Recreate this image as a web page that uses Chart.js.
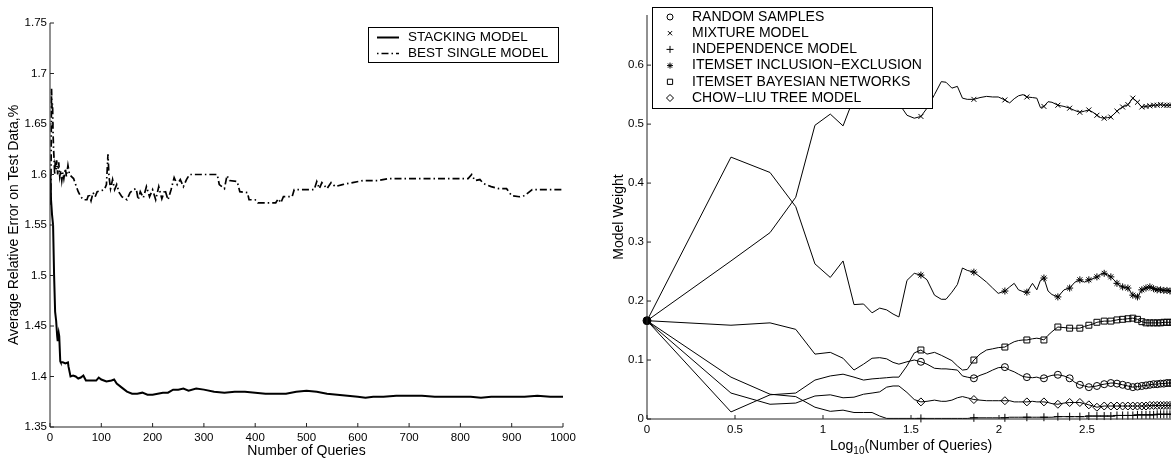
<!DOCTYPE html>
<html>
<head>
<meta charset="utf-8">
<script src="https://cdn.jsdelivr.net/npm/chart.js@4.4.0/dist/chart.umd.min.js"></script>
<style>
  html, body { margin: 0; padding: 0; background: #fff; overflow: hidden; width: 1171px; height: 458px; }
  canvas { position: absolute; top: 0; }
  #left { left: 0; }
  #right { left: 590px; }
</style>
</head>
<body>
<canvas id="left" width="585" height="458"></canvas>
<canvas id="right" width="600" height="458"></canvas>
<script>
/*************************************************
 * DADOS - GRÁFICO ESQUERDO (erro x consultas)
 *************************************************/
const stackQueries = [1, 2, 4, 6, 8, 10, 12, 14, 15, 17, 18, 20, 21, 25, 30, 35, 36, 40, 45, 50, 55, 60, 65, 70, 80, 90, 95, 100,
  110, 120, 125, 130, 140, 150, 160, 170, 180, 190, 200, 210, 220, 230, 240, 250, 260, 270, 285, 300, 320, 340, 360, 380,
  400, 420, 440, 460, 480, 500, 520, 540, 560, 580, 600, 615, 630, 650, 675, 700, 725, 750, 775, 800, 820, 840, 860, 880,
  900, 925, 950, 975, 1000];
const stackError = [1.600, 1.575, 1.560, 1.550, 1.500, 1.464, 1.455, 1.440, 1.435, 1.443, 1.440, 1.415, 1.414, 1.414, 1.413,
  1.414, 1.410, 1.400, 1.401, 1.400, 1.398, 1.399, 1.401, 1.396, 1.396, 1.396, 1.399, 1.397,
  1.395, 1.396, 1.397, 1.393, 1.389, 1.385, 1.383, 1.383, 1.384, 1.382, 1.382, 1.383, 1.384, 1.384, 1.387, 1.387, 1.388,
  1.386, 1.388, 1.387, 1.385, 1.384, 1.385, 1.385,
  1.384, 1.383, 1.383, 1.383, 1.385, 1.386, 1.385, 1.383, 1.382, 1.381, 1.380, 1.379, 1.380, 1.380, 1.381, 1.381, 1.381,
  1.380, 1.380, 1.380, 1.380, 1.379, 1.380, 1.380,
  1.380, 1.380, 1.381, 1.380, 1.380];

const singleQueries = [1, 2, 3, 4, 5, 6, 7, 8, 9, 10, 12, 13, 15, 17, 19, 21, 23, 25, 27, 30, 32, 35, 38, 42, 46, 50, 55, 60,
  65, 72, 76, 80, 84, 88, 92, 100, 106, 110, 113, 115, 118, 122, 126, 130, 135, 140, 150, 156, 162, 168, 172, 176, 182,
  188, 194, 200, 206, 212, 218, 224, 230, 236, 242, 248, 254, 260, 266, 272, 290, 310, 326, 330, 340, 345, 350, 365,
  370, 385, 388, 400, 405, 440, 445, 450, 455, 472, 476, 500, 515, 520, 525, 530, 540, 548, 556, 570, 590, 610, 640,
  660, 700, 760, 815, 822, 828, 838, 845, 860, 875, 890, 900, 915, 925, 940, 960, 980, 1000];
const singleError = [1.570, 1.600, 1.685, 1.665, 1.670, 1.640, 1.625, 1.615, 1.600, 1.610, 1.605, 1.614, 1.600, 1.612, 1.598,
  1.604, 1.594, 1.602, 1.596, 1.606, 1.598, 1.609, 1.600, 1.598, 1.596, 1.590, 1.583, 1.578,
  1.575, 1.575, 1.581, 1.574, 1.582, 1.578, 1.583, 1.584, 1.585, 1.590, 1.620, 1.598, 1.586, 1.595, 1.585, 1.590, 1.582,
  1.578, 1.575, 1.582, 1.585, 1.586, 1.575, 1.583, 1.577,
  1.588, 1.578, 1.585, 1.575, 1.588, 1.576, 1.585, 1.575, 1.585, 1.597, 1.590, 1.595, 1.588, 1.595, 1.600, 1.600, 1.600,
  1.600, 1.590, 1.586, 1.599, 1.594, 1.593,
  1.583, 1.582, 1.575, 1.575, 1.572, 1.572, 1.576, 1.572, 1.578, 1.578, 1.585, 1.585, 1.585, 1.593, 1.586, 1.592, 1.586,
  1.592, 1.588, 1.590, 1.592, 1.594, 1.594,
  1.596, 1.596, 1.596, 1.596, 1.600, 1.594, 1.595, 1.591, 1.588, 1.586, 1.586, 1.579, 1.578, 1.579, 1.585, 1.585, 1.585,
  1.585];

const leftXTicks = [0, 100, 200, 300, 400, 500, 600, 700, 800, 900, 1000];
const leftYTicks = [1.35, 1.4, 1.45, 1.5, 1.55, 1.6, 1.65, 1.7, 1.75];

/*************************************************
 * DADOS - GRÁFICO DIREITO (pesos x log10 consultas)
 *************************************************/
const weightQueries = [1, 3, 5, 7, 9, 11, 13, 15, 17, 19, 21, 23, 25, 27, 30, 33, 36, 39, 43, 47, 50, 54, 58, 62, 66, 72, 78,
  85, 92, 99, 108, 115, 122, 129, 137, 144, 155, 164, 172, 180, 190, 200, 216, 234, 252, 270, 288, 306, 324, 342, 360,
  378, 396, 414, 432, 450, 468, 486, 504, 540, 576, 612, 648, 684, 720, 756, 792, 828, 864, 900, 936, 972, 1000];

const randomSamples = [0.1667, 0.159, 0.163, 0.152, 0.110, 0.113, 0.103, 0.083, 0.093, 0.103, 0.104, 0.102, 0.096, 0.093,
  0.097, 0.100, 0.097, 0.093, 0.086, 0.085, 0.085, 0.084, 0.083, 0.073, 0.071, 0.069, 0.074,
  0.078, 0.083, 0.087, 0.088, 0.083, 0.080, 0.076, 0.072, 0.071, 0.070, 0.071, 0.069, 0.069, 0.072, 0.074, 0.075, 0.073,
  0.069, 0.062, 0.058, 0.056, 0.054, 0.055, 0.056,
  0.058, 0.059, 0.060, 0.061, 0.061, 0.060, 0.059, 0.058, 0.056, 0.054, 0.055, 0.056, 0.057, 0.058, 0.059, 0.059, 0.060,
  0.060, 0.061, 0.061, 0.061, 0.061];

const mixtureModel = [0.1667, 0.268, 0.316, 0.376, 0.498, 0.517, 0.497, 0.545, 0.565, 0.575, 0.570, 0.560, 0.550, 0.535,
  0.515, 0.510, 0.513, 0.527, 0.550, 0.572, 0.571, 0.561, 0.564, 0.544, 0.542, 0.542, 0.545,
  0.547, 0.546, 0.546, 0.541, 0.536, 0.543, 0.548, 0.550, 0.546, 0.545, 0.544, 0.528, 0.530, 0.538, 0.537, 0.532, 0.530,
  0.527, 0.523, 0.520, 0.522, 0.524, 0.520, 0.515,
  0.511, 0.510, 0.511, 0.512, 0.517, 0.522, 0.526, 0.529, 0.533, 0.544, 0.537, 0.529, 0.530, 0.531, 0.532, 0.532, 0.533,
  0.532, 0.532, 0.532, 0.532, 0.532];

const independenceModel = [0.1667, 0.071, 0.042, 0.038, 0.020, 0.013, 0.015, 0.011, 0.011, 0.011, 0.005, 0.001, 0.001, 0.001,
  0.001, 0.001, 0.001, 0.001, 0.001, 0.001, 0.001, 0.001, 0.001, 0.001, 0.001, 0.002, 0.002,
  0.002, 0.002, 0.002, 0.002, 0.003, 0.003, 0.003, 0.003, 0.003, 0.003, 0.003, 0.003, 0.003, 0.003, 0.003, 0.004, 0.004,
  0.004, 0.004, 0.004, 0.004, 0.005, 0.005, 0.005,
  0.005, 0.005, 0.005, 0.005, 0.005, 0.006, 0.006, 0.006, 0.006, 0.006, 0.007, 0.007, 0.007, 0.007, 0.007, 0.008, 0.008,
  0.008, 0.008, 0.008, 0.008, 0.008];

const itemsetInclusionExclusion = [0.1667, 0.444, 0.418, 0.360, 0.263, 0.240, 0.268, 0.194, 0.195, 0.180, 0.188, 0.185,
  0.178, 0.173, 0.235, 0.247, 0.244, 0.236, 0.210, 0.203, 0.203, 0.215, 0.228, 0.256, 0.252, 0.249, 0.241,
  0.232, 0.222, 0.213, 0.217, 0.224, 0.230, 0.219, 0.216, 0.215, 0.230, 0.219, 0.235, 0.239, 0.217, 0.211, 0.207, 0.219,
  0.222, 0.232, 0.236, 0.232, 0.236, 0.238, 0.241,
  0.245, 0.247, 0.244, 0.241, 0.236, 0.230, 0.226, 0.224, 0.222, 0.210, 0.207, 0.219, 0.222, 0.224, 0.221, 0.219, 0.219,
  0.218, 0.218, 0.217, 0.217, 0.217];

const itemsetBayesNets = [0.1667, 0.012, 0.041, 0.044, 0.066, 0.073, 0.076, 0.071, 0.066, 0.068, 0.069, 0.070, 0.071, 0.071,
  0.090, 0.112, 0.117, 0.110, 0.113, 0.108, 0.104, 0.099, 0.090, 0.083, 0.084, 0.100, 0.110,
  0.117, 0.119, 0.121, 0.122, 0.127, 0.131, 0.133, 0.134, 0.134, 0.136, 0.137, 0.136, 0.134, 0.142, 0.148, 0.156, 0.155,
  0.154, 0.154, 0.154, 0.157, 0.159, 0.161, 0.164,
  0.165, 0.166, 0.166, 0.166, 0.167, 0.168, 0.169, 0.169, 0.170, 0.171, 0.169, 0.165, 0.163, 0.163, 0.163, 0.163, 0.163,
  0.164, 0.164, 0.164, 0.164, 0.164];

const chowLiuTree = [0.1667, 0.044, 0.025, 0.027, 0.039, 0.041, 0.036, 0.037, 0.042, 0.044, 0.046, 0.054, 0.056, 0.056,
  0.045, 0.033, 0.029, 0.030, 0.032, 0.030, 0.030, 0.032, 0.036, 0.038, 0.036, 0.033, 0.032,
  0.031, 0.031, 0.031, 0.031, 0.031, 0.029, 0.029, 0.029, 0.029, 0.030, 0.029, 0.029, 0.029, 0.028, 0.026, 0.025, 0.027,
  0.028, 0.028, 0.028, 0.026, 0.024, 0.022, 0.020,
  0.021, 0.022, 0.022, 0.022, 0.022, 0.022, 0.022, 0.022, 0.022, 0.022, 0.022, 0.022, 0.022, 0.023, 0.023, 0.023, 0.023,
  0.023, 0.023, 0.023, 0.023, 0.023];

const markerEvery = 36;
const rightXTicks = [0, 0.5, 1, 1.5, 2, 2.5, 3];
const rightYTicks = [0, 0.1, 0.2, 0.3, 0.4, 0.5, 0.6];

/*************************************************
 * UTILIDADES
 *************************************************/
const FONT = "'Liberation Sans', Arial, Helvetica, sans-serif";

function $(id) {
  return document.getElementById(id);
}

function pares(xs, ys) {
  return xs.map((x, i) => ({ x, y: ys[i] }));
}

function fmt(v) {
  return String(+v.toFixed(2));
}

// eixos estilo matlab: linha esquerda + base, ticks para dentro
function eixos(ctx, chart, extra) {
  const a = chart.chartArea;
  const { x, y } = chart.scales;
  ctx.save();
  ctx.strokeStyle = '#222';
  ctx.lineWidth = 1;
  ctx.beginPath();
  ctx.moveTo(a.left, a.top);
  ctx.lineTo(a.left, a.bottom);
  ctx.lineTo(a.right + extra, a.bottom);
  x.ticks.forEach(t => {
    const px = x.getPixelForValue(t.value);
    ctx.moveTo(px, a.bottom);
    ctx.lineTo(px, a.bottom - 4);
  });
  y.ticks.forEach(t => {
    const py = y.getPixelForValue(t.value);
    ctx.moveTo(a.left, py);
    ctx.lineTo(a.left + 4, py);
  });
  ctx.stroke();
  ctx.restore();
}

function decor(desenho, extra) {
  return {
    id: 'decor',
    afterDatasetsDraw(chart) {
      const ctx = chart.ctx;
      eixos(ctx, chart, extra);
      ctx.save();
      desenho(ctx, chart.chartArea);
      ctx.restore();
    }
  };
}

function escalas(cfg) {
  const tickFont = { family: FONT, size: cfg.fontSize };
  return {
    x: {
      type: 'linear', min: cfg.xMin, max: cfg.xMax,
      grid: { display: false, drawTicks: false }, border: { display: false },
      afterBuildTicks: s => { s.ticks = cfg.xTicks.map(v => ({ value: v })); },
      afterFit: s => { s.height = cfg.xHeight; },
      ticks: { padding: cfg.xPad, font: tickFont, color: '#000', maxRotation: 0, autoSkip: false, callback: fmt }
    },
    y: {
      type: 'linear', min: cfg.yMin, max: cfg.yMax,
      grid: { display: false, drawTicks: false }, border: { display: false },
      afterBuildTicks: s => { s.ticks = cfg.yTicks.map(v => ({ value: v })); },
      afterFit: s => { s.width = cfg.yWidth; },
      ticks: { padding: 3, font: tickFont, color: '#000', autoSkip: false, callback: fmt }
    }
  };
}

/*************************************************
 * GRÁFICO ESQUERDO
 *************************************************/
new Chart($('left'), {
  type: 'line',
  data: {
    datasets: [
      {
        label: 'STACKING MODEL',
        data: pares(stackQueries, stackError),
        borderColor: '#000', borderWidth: 2, pointRadius: 0, tension: 0
      },
      {
        label: 'BEST SINGLE MODEL',
        data: pares(singleQueries, singleError),
        borderColor: '#000', borderWidth: 1.7, borderDash: [7, 3, 1.5, 3], pointRadius: 0, tension: 0
      }
    ]
  },
  options: {
    responsive: false, animation: false, events: [],
    layout: { padding: { left: 0, top: 23, right: 22, bottom: 0 } },
    plugins: { legend: { display: false }, tooltip: { enabled: false } },
    scales: escalas({
      xMin: 0, xMax: 1000, xTicks: leftXTicks, xHeight: 31, xPad: 4,
      yMin: 1.35, yMax: 1.75, yTicks: leftYTicks, yWidth: 50, fontSize: 11.5
    })
  },
  plugins: [decor((ctx, a) => {
    ctx.fillStyle = '#000';
    ctx.font = `14px ${FONT}`;
    ctx.textAlign = 'center';
    ctx.textBaseline = 'middle';
    ctx.fillText('Number of Queries', (a.left + a.right) / 2, 451);
    ctx.save();
    ctx.translate(14, (a.top + a.bottom) / 2);
    ctx.rotate(-Math.PI / 2);
    ctx.fillText('Average Relative Error on Test Data,%', 0, 0);
    ctx.restore();

    // legenda
    ctx.fillStyle = '#fff';
    ctx.fillRect(368, 27, 190, 35);
    ctx.strokeStyle = '#000';
    ctx.lineWidth = 1;
    ctx.strokeRect(368.5, 27.5, 190, 35);
    ctx.lineWidth = 2;
    ctx.beginPath();
    ctx.moveTo(377, 37.5); ctx.lineTo(399, 37.5);
    ctx.stroke();
    ctx.lineWidth = 1.5;
    ctx.setLineDash([1.5, 3, 7, 3]);
    ctx.beginPath();
    ctx.moveTo(377, 53.5); ctx.lineTo(399, 53.5);
    ctx.stroke();
    ctx.setLineDash([]);
    ctx.fillStyle = '#000';
    ctx.font = `13.5px ${FONT}`;
    ctx.textAlign = 'left';
    ctx.fillText('STACKING MODEL', 408, 37.5);
    ctx.fillText('BEST SINGLE MODEL', 408, 53.5);
  }, 0)]
});

/*************************************************
 * GRÁFICO DIREITO
 *************************************************/
const series = [
  { label: 'RANDOM SAMPLES', values: randomSamples, style: 'circle', r: 3.5 },
  { label: 'MIXTURE MODEL', values: mixtureModel, style: 'crossRot', r: 3.5 },
  { label: 'INDEPENDENCE MODEL', values: independenceModel, style: 'cross', r: 4 },
  { label: 'ITEMSET INCLUSION\u2212EXCLUSION', values: itemsetInclusionExclusion, style: 'star', r: 3.5 },
  { label: 'ITEMSET BAYESIAN NETWORKS', values: itemsetBayesNets, style: 'rect', r: 4.2 },
  { label: 'CHOW\u2212LIU TREE MODEL', values: chowLiuTree, style: 'rectRot', r: 4 }
];

const logQueries = weightQueries.map(q => Math.log10(q));

new Chart($('right'), {
  type: 'line',
  data: {
    datasets: series.map(s => ({
      label: s.label,
      data: pares(logQueries, s.values),
      borderColor: '#000', borderWidth: 1, tension: 0, clip: false,
      pointStyle: c => c.dataIndex === 0 ? 'circle' : s.style,
      pointRadius: c => c.dataIndex === 0
        ? (c.datasetIndex === 0 ? 4 : 0)
        : (weightQueries[c.dataIndex] % markerEvery === 0 ? s.r : 0),
      pointBorderColor: '#000',
      pointBackgroundColor: c => c.dataIndex === 0 ? '#000' : 'rgba(0,0,0,0)',
      pointBorderWidth: 1
    }))
  },
  options: {
    responsive: false, animation: false, events: [],
    layout: { padding: { left: 0, top: 15, right: 15, bottom: 0 } },
    plugins: { legend: { display: false }, tooltip: { enabled: false } },
    scales: escalas({
      xMin: 0, xMax: 3, xTicks: rightXTicks, xHeight: 39, xPad: 4,
      yMin: 0, yMax: 0.685, yTicks: rightYTicks, yWidth: 57, fontSize: 11.5
    })
  },
  plugins: [decor((ctx, a) => {
    ctx.fillStyle = '#000';
    ctx.textBaseline = 'middle';

    // título x com subscrito
    ctx.font = `14px ${FONT}`;
    const w1 = ctx.measureText('Log').width;
    const w3 = ctx.measureText('(Number of Queries)').width;
    ctx.font = `10px ${FONT}`;
    const w2 = ctx.measureText('10').width;
    let x = (a.left + a.right) / 2 - (w1 + w2 + w3) / 2;
    ctx.textAlign = 'left';
    ctx.font = `14px ${FONT}`;
    ctx.fillText('Log', x, 446);
    ctx.font = `10px ${FONT}`;
    ctx.fillText('10', x + w1, 451);
    ctx.font = `14px ${FONT}`;
    ctx.fillText('(Number of Queries)', x + w1 + w2, 446);

    ctx.save();
    ctx.textAlign = 'center';
    ctx.translate(29, (a.top + a.bottom) / 2);
    ctx.rotate(-Math.PI / 2);
    ctx.fillText('Model Weight', 0, 0);
    ctx.restore();

    // legenda
    ctx.fillStyle = '#fff';
    ctx.fillRect(62, 7, 280, 101);
    ctx.strokeStyle = '#000';
    ctx.lineWidth = 1;
    ctx.strokeRect(62.5, 7.5, 280, 101);
    ctx.font = `14px ${FONT}`;
    ctx.textAlign = 'left';
    series.forEach((s, i) => {
      const y = 17 + i * 16.2;
      ctx.fillStyle = 'rgba(0,0,0,0)';
      ctx.strokeStyle = '#000';
      Chart.helpers.drawPoint(ctx, { pointStyle: s.style, radius: s.r - 0.5, rotation: 0, borderWidth: 1 }, 80, y);
      ctx.fillStyle = '#000';
      ctx.fillText(s.label, 102, y);
    });
  }, 20)]
});
</script>
</body>
</html>
